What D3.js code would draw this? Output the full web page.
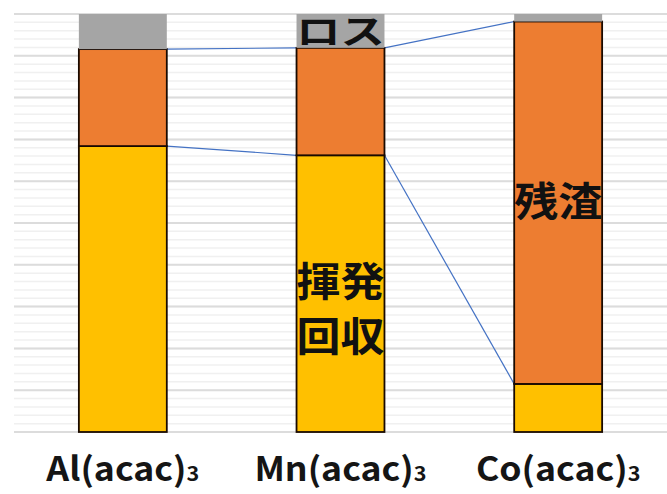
<!DOCTYPE html>
<html><head><meta charset="utf-8">
<script src="https://cdn.jsdelivr.net/npm/d3@7"></script>
<style>body{margin:0;background:#fff}svg{display:block}</style>
</head><body>
<svg id="c" width="667" height="494"></svg>
<script>
const categories = ["Al(acac)", "Mn(acac)", "Co(acac)"];
const volatile = [68.4, 66.2, 11.5];   // 揮発回収
const residue  = [23.2, 25.7, 86.7];   // 残渣
const loss     = [8.4, 8.1, 1.8];      // ロス
const seriesNames = ["揮発回収", "残渣", "ロス"];
const majorTicks = d3.range(0, 101, 10);
const minorTicks = d3.range(0, 101, 2);

const svg = d3.select("#c");
const W = 667, H = 494;
const x = d3.scaleBand().domain(categories).range([14, 667]).paddingInner(0.596).paddingOuter(0.298);
const y = d3.scaleLinear().domain([0, 100]).range([432, 14]);

const data = categories.map((c, i) => ({cat: c, v: volatile[i], r: residue[i], l: loss[i]}));
const stack = d3.stack().keys(["v", "r", "l"])(data);
const colors = {v: "#FFC000", r: "#ED7D31", l: "#A5A5A5"};

// gridlines
const g = svg.append("g");
g.selectAll(".minor").data(minorTicks).join("line")
  .attr("x1", 14).attr("x2", W).attr("y1", d => y(d)).attr("y2", d => y(d))
  .attr("stroke", "#f0f0f0").attr("stroke-width", 1.5);
g.selectAll(".major").data(majorTicks).join("line")
  .attr("x1", 14).attr("x2", W).attr("y1", d => y(d)).attr("y2", d => y(d))
  .attr("stroke", "#dcdcdc").attr("stroke-width", 2);

// connector lines
const conn = svg.append("g").attr("stroke", "#4472C4").attr("stroke-width", 1.2).attr("fill", "none");
["v", "r"].forEach((k, si) => {
  for (let i = 0; i < data.length - 1; i++) {
    const y1 = stack[si][i][1], y2 = stack[si][i + 1][1];
    conn.append("line")
      .attr("x1", x(categories[i]) + x.bandwidth()).attr("y1", y(y1))
      .attr("x2", x(categories[i + 1])).attr("y2", y(y2));
  }
});

// bars
stack.forEach(s => {
  svg.append("g").selectAll("rect").data(s).join("rect")
    .attr("x", d => x(d.data.cat))
    .attr("y", d => y(d[1]))
    .attr("width", x.bandwidth())
    .attr("height", d => y(d[0]) - y(d[1]))
    .attr("fill", colors[s.key])
    .attr("stroke", s.key === "l" ? "none" : "#1a0a00")
    .attr("stroke-width", s.key === "l" ? 0 : 1.8);
});

const cx = i => x(categories[i]) + x.bandwidth() / 2;
const sx = (c, k) => `translate(${c},0) scale(${k},1) translate(${-c},0)`;

// x labels
const lab = svg.append("g").attr("font-family", "'Noto Sans CJK JP', 'Noto Sans', sans-serif")
  .attr("font-size", 33).attr("font-weight", 700).attr("fill", "#151515");
categories.forEach((c, i) => {
  const t = lab.append("text").attr("x", cx(i)).attr("y", 481).attr("text-anchor", "middle")
    .attr("transform", sx(cx(i), 1.08));
  t.append("tspan").text(c);
  t.append("tspan").attr("font-size", 20).text("3");
});

// in-bar labels
const jp = svg.append("g").attr("font-family", "'Noto Sans CJK JP', sans-serif")
  .attr("font-size", 40).attr("font-weight", 700).attr("fill", "#111").attr("text-anchor", "middle");
jp.append("text").attr("x", cx(1)).attr("y", 44).attr("font-size", 34).attr("transform", sx(cx(1), 1.3)).text("ロス");
jp.append("text").attr("x", cx(2)).attr("y", 216).attr("transform", sx(cx(2), 1.1)).text("残渣");
jp.append("text").attr("x", cx(1)).attr("y", 296).attr("transform", sx(cx(1), 1.1)).text("揮発");
jp.append("text").attr("x", cx(1)).attr("y", 351).attr("transform", sx(cx(1), 1.1)).text("回収");
</script>
</body></html>
